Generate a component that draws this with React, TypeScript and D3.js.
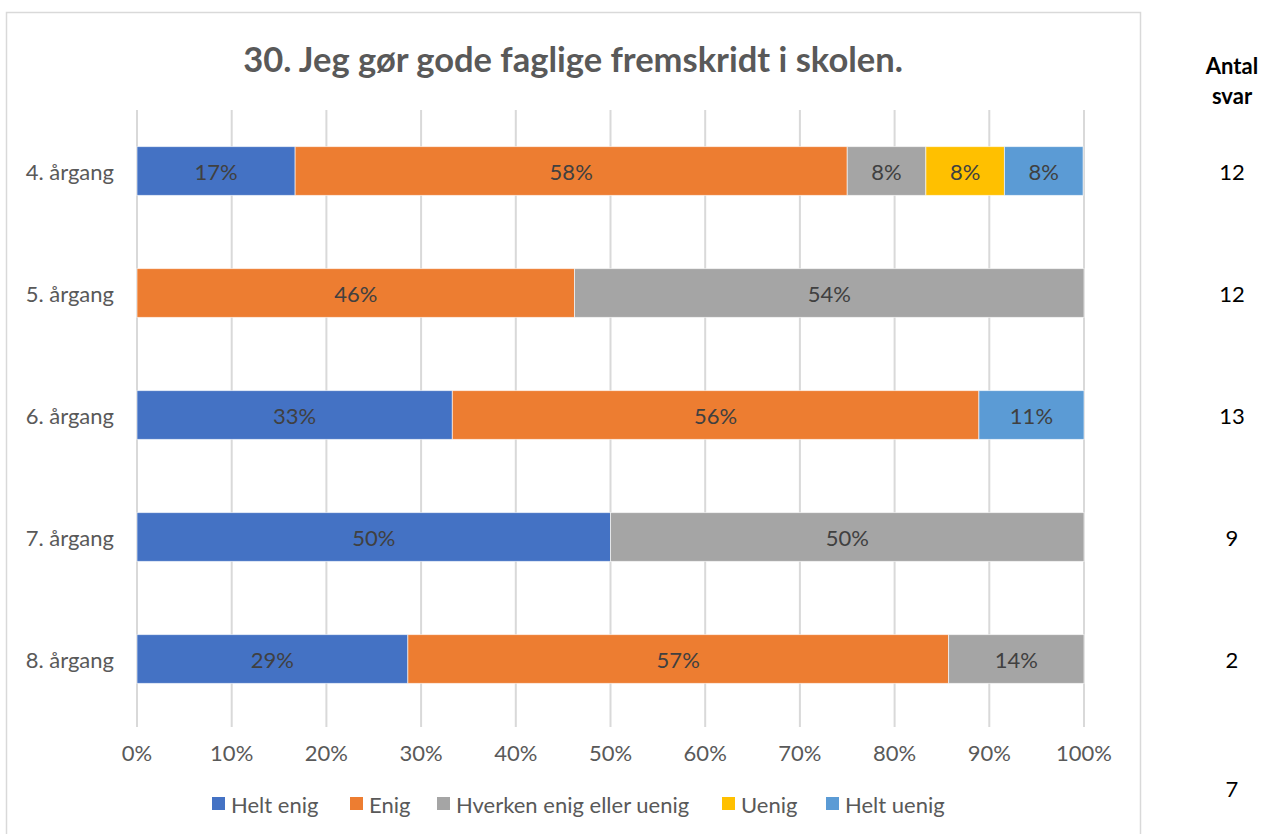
import React from 'react';
import * as d3 from 'd3';

// ── Data ───────────────────────────────────────────────────────────────
const categories = ['4. årgang', '5. årgang', '6. årgang', '7. årgang', '8. årgang'];
const seriesNames = ['Helt enig', 'Enig', 'Hverken enig eller uenig', 'Uenig', 'Helt uenig'];
const seriesColors = ['#4472C4', '#ED7D31', '#A5A5A5', '#FFC000', '#5B9BD5'];

// shares in percent, one array per series (same order as categories)
const heltEnig = [16.7, 0, 33.3, 50, 28.6];
const enig = [58.3, 46.2, 55.6, 0, 57.1];
const hverken = [8.3, 53.8, 0, 50, 14.3];
const uenig = [8.3, 0, 0, 0, 0];
const heltUenig = [8.3, 0, 11.1, 0, 0];

const antalSvar = ['12', '12', '13', '9', '2', '7'];
const xTicks = [0, 10, 20, 30, 40, 50, 60, 70, 80, 90, 100];

const FONT = 'Lato, "Open Sans", sans-serif';
const FS = 22;

export default function App() {
  const W = 1266, H = 834;
  const plot = { left: 137, right: 1084, top: 110, bottom: 720 };

  const x = d3.scaleLinear().domain([0, 100]).range([plot.left, plot.right]);
  const y = d3.scaleBand().domain(categories).range([plot.top, plot.bottom]).paddingInner(0.6).paddingOuter(0.3);

  const rows = categories.map((c, i) => ({
    cat: c,
    'Helt enig': heltEnig[i],
    'Enig': enig[i],
    'Hverken enig eller uenig': hverken[i],
    'Uenig': uenig[i],
    'Helt uenig': heltUenig[i],
  }));
  const stacked = d3.stack<any>().keys(seriesNames)(rows);
  const color = d3.scaleOrdinal<string, string>().domain(seriesNames).range(seriesColors);

  const legendItems = [
    { name: 'Helt enig', x: 212 },
    { name: 'Enig', x: 350 },
    { name: 'Hverken enig eller uenig', x: 437 },
    { name: 'Uenig', x: 722 },
    { name: 'Helt uenig', x: 826 },
  ];

  const rightX = 1232;
  const countY = categories.map(c => (y(c) || 0) + y.bandwidth() / 2);
  countY.push(788);

  return (
    <div style={{ position: 'absolute', left: 0, top: 0 }}>
      <svg width={W} height={H} style={{ display: 'block', background: '#fff' }} fontFamily={FONT}>
        {/* chart frame */}
        <rect x={6.5} y={12.5} width={1134} height={840} fill="#fff" stroke="#d9d9d9" strokeWidth={1.5} />

        <text x={573} y={58} textAnchor="middle" dominantBaseline="central" fontSize={34.5} fontWeight="bold" fill="#595959">
          30. Jeg gør gode faglige fremskridt i skolen.
        </text>

        {/* gridlines */}
        {xTicks.map(t => (
          <line key={t} x1={x(t)} x2={x(t)} y1={plot.top} y2={727} stroke="#d9d9d9" strokeWidth={2} />
        ))}

        {/* bars */}
        {stacked.map(s => (
          <g key={s.key} fill={color(s.key)}>
            {s.map((d, i) => {
              const w = x(d[1]) - x(d[0]);
              if (w <= 0) return null;
              return (
                <g key={i}>
                  <rect x={x(d[0])} y={y(categories[i])} width={w} height={y.bandwidth()}
                    stroke="#ffffff" strokeOpacity={0.6} strokeWidth={1} />
                  <text x={x(d[0]) + w / 2} y={(y(categories[i]) || 0) + y.bandwidth() / 2}
                    textAnchor="middle" dominantBaseline="central" fontSize={FS} fill="#404040">
                    {Math.round(d[1] - d[0])}%
                  </text>
                </g>
              );
            })}
          </g>
        ))}

        {/* category labels */}
        {categories.map(c => (
          <text key={c} x={114} y={(y(c) || 0) + y.bandwidth() / 2} textAnchor="end" dominantBaseline="central"
            fontSize={FS} fill="#595959">{c}</text>
        ))}

        {/* x tick labels */}
        {xTicks.map(t => (
          <text key={t} x={x(t)} y={752} textAnchor="middle" dominantBaseline="central" fontSize={FS} fill="#595959">
            {t}%
          </text>
        ))}

        {/* legend */}
        {legendItems.map(l => (
          <g key={l.name}>
            <rect x={l.x} y={797} width={13} height={13} fill={color(l.name)} />
            <text x={l.x + 19} y={804} dominantBaseline="central" fontSize={FS} fill="#595959">{l.name}</text>
          </g>
        ))}

        {/* Antal svar */}
        <text x={rightX} y={65} textAnchor="middle" dominantBaseline="central" fontSize={FS} fontWeight="bold" fill="#000">Antal</text>
        <text x={rightX} y={95} textAnchor="middle" dominantBaseline="central" fontSize={FS} fontWeight="bold" fill="#000">svar</text>
        {antalSvar.map((n, i) => (
          <text key={i} x={rightX} y={countY[i]} textAnchor="middle" dominantBaseline="central" fontSize={FS} fill="#000">{n}</text>
        ))}
      </svg>
    </div>
  );
}
